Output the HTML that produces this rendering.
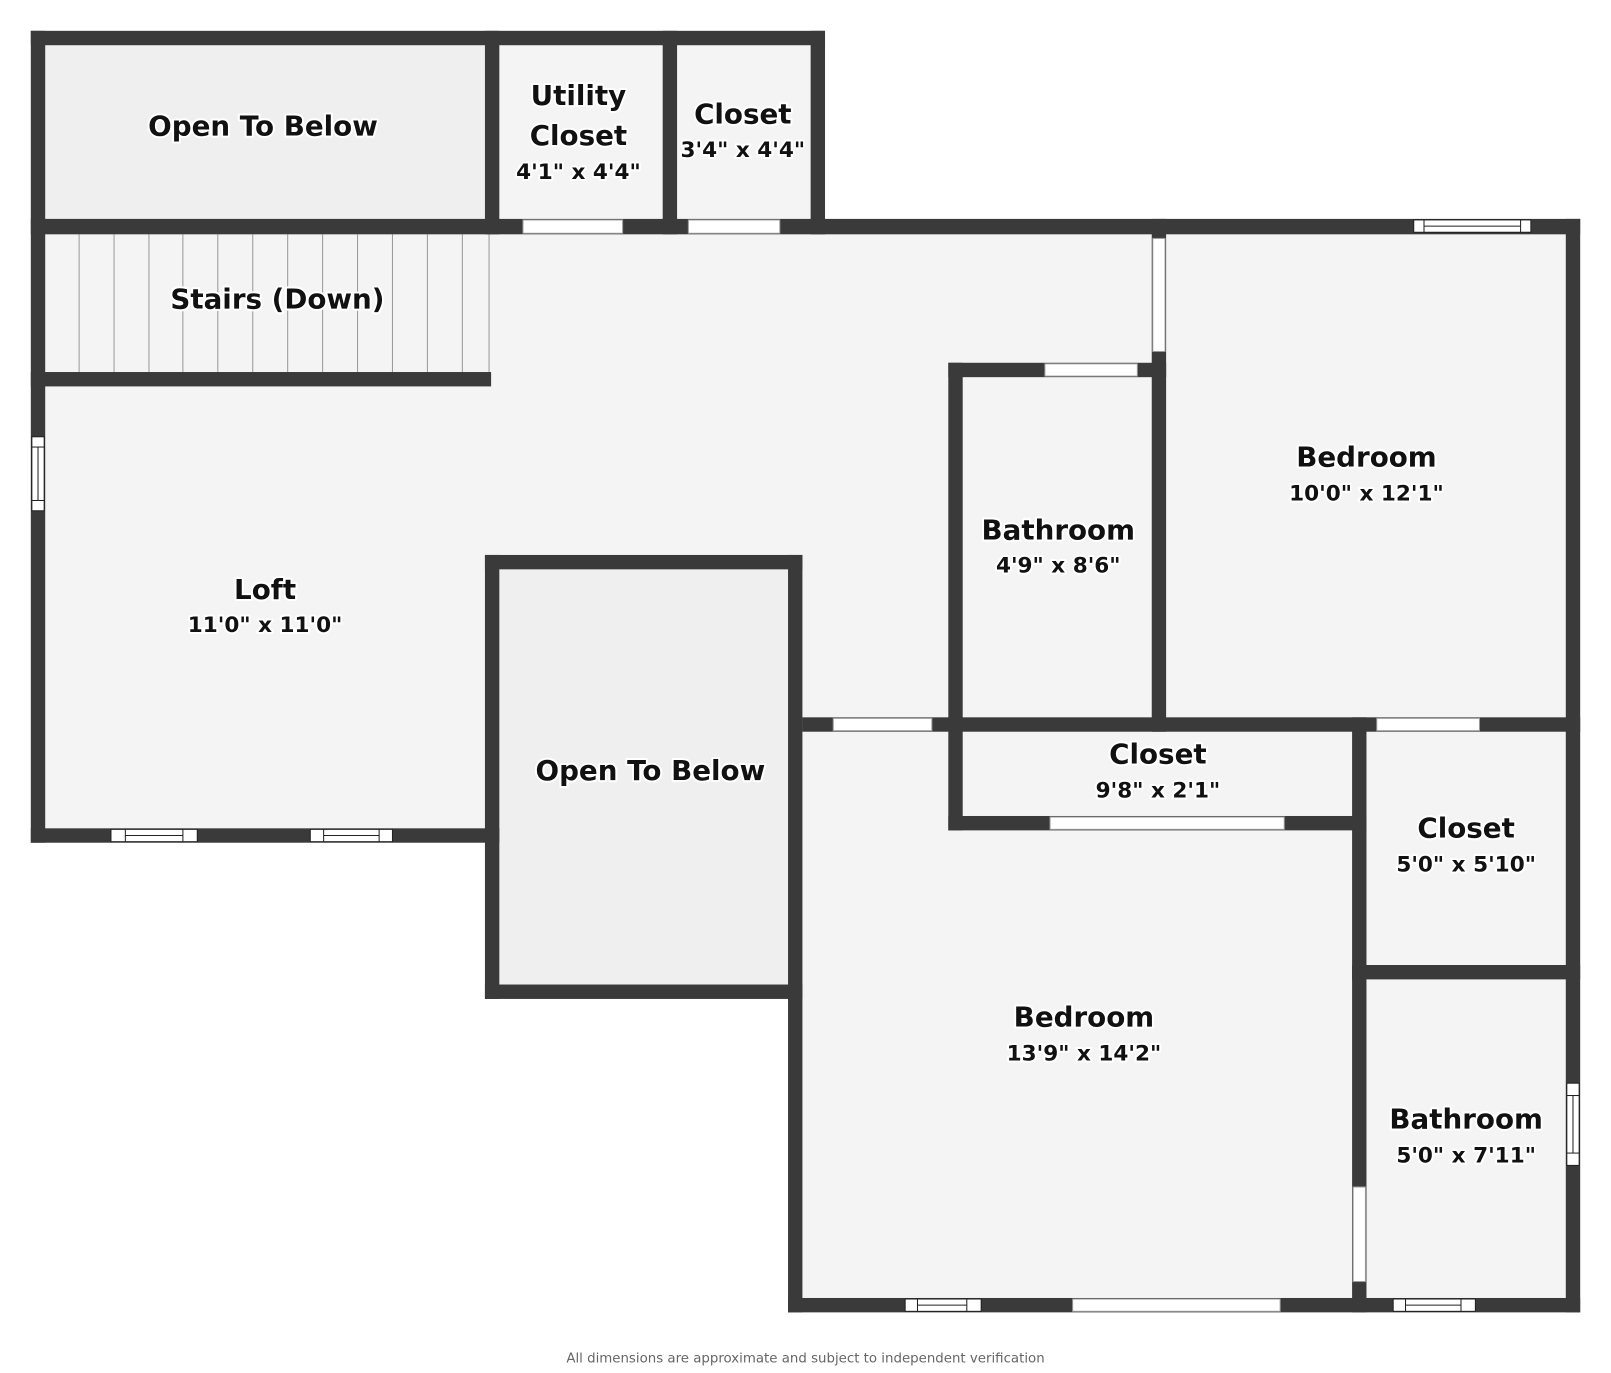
<!DOCTYPE html>
<html><head><style>
html,body{margin:0;padding:0;background:#fff;}
svg{display:block;}
text{font-family:"DejaVu Sans","Liberation Sans",sans-serif;font-weight:bold;fill:#111;text-anchor:middle;stroke:#fff;stroke-width:4px;paint-order:stroke;stroke-linejoin:round;}
.d{font-size:21px;}
.n{font-size:27px;}
</style></head><body>
<svg width="1611" height="1373" viewBox="0 0 1568 1336" preserveAspectRatio="none" xmlns="http://www.w3.org/2000/svg">
<rect width="1568" height="1336" fill="#fff"/>
<g fill="#f4f4f4">
<rect x="30" y="213" width="1508" height="607"/>
<rect x="767" y="698" width="771" height="579"/>
<rect x="472" y="30" width="331" height="198"/>
</g>
<rect x="30" y="30" width="456" height="198" fill="#efefef"/>
<rect x="472" y="540" width="309" height="432" fill="#efefef"/>
<g stroke="#999" stroke-width="1">
<line x1="77" y1="228" x2="77" y2="362"/><line x1="111" y1="228" x2="111" y2="362"/><line x1="145" y1="228" x2="145" y2="362"/><line x1="178" y1="228" x2="178" y2="362"/><line x1="212" y1="228" x2="212" y2="362"/><line x1="246" y1="228" x2="246" y2="362"/><line x1="280" y1="228" x2="280" y2="362"/><line x1="314" y1="228" x2="314" y2="362"/><line x1="348" y1="228" x2="348" y2="362"/><line x1="382" y1="228" x2="382" y2="362"/><line x1="416" y1="228" x2="416" y2="362"/><line x1="450" y1="228" x2="450" y2="362"/>
<line x1="476" y1="228" x2="476" y2="362"/>
</g>
<g fill="#3a3a3a">
<rect x="30" y="30" width="773" height="14"/>
<rect x="30" y="30" width="14" height="790"/>
<rect x="472" y="30" width="14" height="198"/>
<rect x="645" y="30" width="14" height="198"/>
<rect x="789" y="30" width="14" height="198"/>
<rect x="30" y="213" width="1508" height="15"/>
<rect x="30" y="362" width="448" height="14"/>
<rect x="30" y="806" width="456" height="14"/>
<rect x="472" y="540" width="309" height="14"/>
<rect x="472" y="540" width="14" height="432"/>
<rect x="472" y="958" width="309" height="14"/>
<rect x="767" y="540" width="14" height="737"/>
<rect x="1121" y="213" width="14" height="499"/>
<rect x="923" y="353" width="212" height="14"/>
<rect x="923" y="353" width="14" height="455"/>
<rect x="781" y="698" width="757" height="14"/>
<rect x="1524" y="213" width="14" height="1064"/>
<rect x="923" y="794" width="407" height="14"/>
<rect x="1316" y="698" width="14" height="579"/>
<rect x="1316" y="939" width="222" height="14"/>
<rect x="767" y="1263" width="771" height="14"/>
</g>
<g fill="#fff" stroke="#999" stroke-width="1">
<rect x="509" y="214" width="97" height="13"/>
<rect x="670" y="214" width="89" height="13"/>
<rect x="1122" y="232" width="12" height="110"/>
<rect x="1017" y="354" width="90" height="12"/>
<rect x="811" y="699" width="96" height="12"/>
<rect x="1340" y="699" width="100" height="12"/>
<rect x="1022" y="795" width="228" height="12"/>
<rect x="1317" y="1155" width="12" height="92"/>
<rect x="1044" y="1264" width="202" height="12"/>
</g>
<g fill="#fff" stroke="#222" stroke-width="1">
<rect x="1376" y="214" width="114" height="12"/><rect x="1386" y="214" width="94" height="12"/><line x1="1386" y1="220" x2="1480" y2="220"/>
<rect x="31" y="425" width="12" height="72"/><rect x="31" y="435" width="12" height="52"/><line x1="37" y1="435" x2="37" y2="487"/>
<rect x="108" y="807" width="84" height="12"/><rect x="122" y="807" width="56" height="12"/><line x1="122" y1="813" x2="178" y2="813"/>
<rect x="302" y="807" width="80" height="12"/><rect x="315" y="807" width="54" height="12"/><line x1="315" y1="813" x2="369" y2="813"/>
<rect x="881" y="1264" width="74" height="12"/><rect x="893" y="1264" width="48" height="12"/><line x1="893" y1="1270" x2="941" y2="1270"/>
<rect x="1356" y="1264" width="80" height="12"/><rect x="1368" y="1264" width="54" height="12"/><line x1="1368" y1="1270" x2="1422" y2="1270"/>
<rect x="1525" y="1054" width="12" height="80"/><rect x="1525" y="1066" width="12" height="56"/><line x1="1531" y1="1066" x2="1531" y2="1122"/>
</g>
<text class="n" x="256" y="132">Open To Below</text>
<text class="n" x="563" y="102">Utility</text>
<text class="n" x="563" y="141">Closet</text>
<text class="d" x="563" y="174">4'1" x 4'4"</text>
<text class="n" x="723" y="120">Closet</text>
<text class="d" x="723" y="153">3'4" x 4'4"</text>
<text class="n" x="270" y="300">Stairs (Down)</text>
<text class="n" x="258" y="583">Loft</text>
<text class="d" x="258" y="615">11'0" x 11'0"</text>
<text class="n" x="633" y="759">Open To Below</text>
<text class="n" x="1030" y="525">Bathroom</text>
<text class="d" x="1030" y="557">4'9" x 8'6"</text>
<text class="n" x="1330" y="454">Bedroom</text>
<text class="d" x="1330" y="487">10'0" x 12'1"</text>
<text class="n" x="1127" y="743">Closet</text>
<text class="d" x="1127" y="776">9'8" x 2'1"</text>
<text class="n" x="1427" y="815">Closet</text>
<text class="d" x="1427" y="848">5'0" x 5'10"</text>
<text class="n" x="1055" y="999">Bedroom</text>
<text class="d" x="1055" y="1032">13'9" x 14'2"</text>
<text class="n" x="1427" y="1098">Bathroom</text>
<text class="d" x="1427" y="1131">5'0" x 7'11"</text>
<text x="784" y="1326" style="font-family:'DejaVu Sans',sans-serif;font-weight:normal;font-size:13px;fill:#666;stroke:none;">All dimensions are approximate and subject to independent verification</text>
</svg>
</body></html>
